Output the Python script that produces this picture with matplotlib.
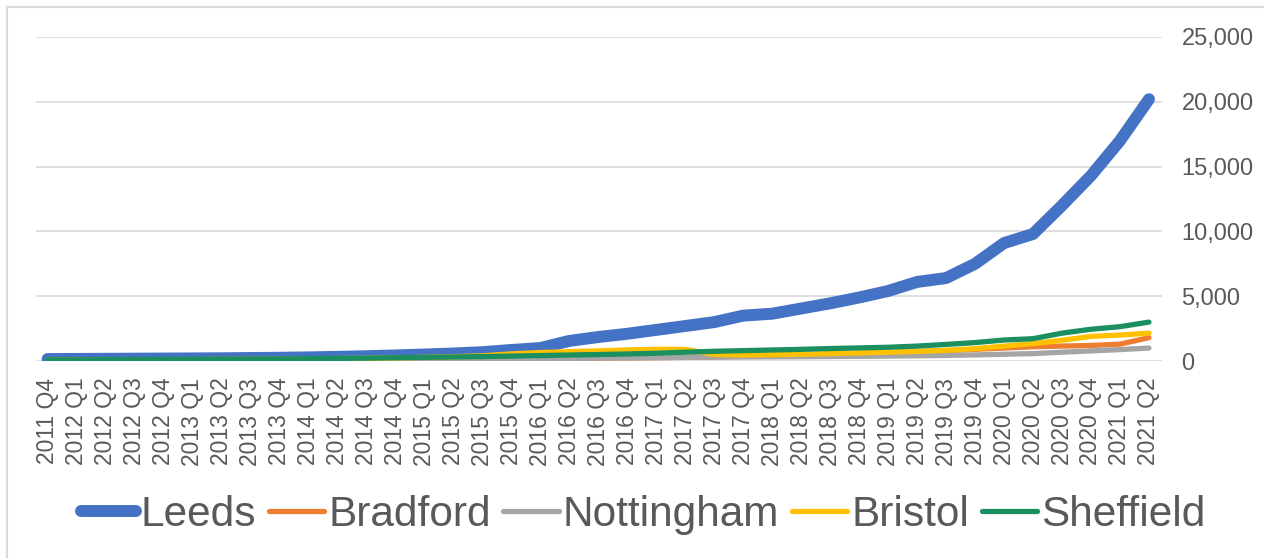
import matplotlib
matplotlib.use("Agg")
import matplotlib.pyplot as plt
from matplotlib.lines import Line2D
from matplotlib.ticker import FuncFormatter

plt.rcParams['font.family'] = ['Liberation Sans', 'DejaVu Sans']

# quarters 2011 Q4 .. 2021 Q2
quarters = ["2011 Q4"]
for yr in range(2012, 2022):
    for q in range(1, 5):
        quarters.append(f"{yr} Q{q}")
quarters = quarters[:39]

leeds = [150, 160, 170, 180, 190, 200, 210, 230, 250, 280, 320, 370, 430, 500,
         580, 680, 850, 1000, 1550, 1850, 2100, 2400, 2700, 3000, 3500, 3650,
         4050, 4450, 4900, 5400, 6100, 6400, 7500, 9100, 9800, 12000, 14300,
         17000, 20200]
bradford = [30, 35, 40, 45, 50, 55, 60, 65, 70, 80, 90, 100, 110, 120, 130,
            140, 160, 180, 200, 220, 240, 260, 280, 300, 360, 400, 460, 520,
            580, 650, 720, 800, 900, 1000, 1100, 1150, 1200, 1300, 1800]
nottingham = [20, 25, 30, 35, 40, 45, 50, 55, 60, 70, 80, 90, 100, 110, 120,
              140, 160, 180, 200, 220, 240, 260, 280, 300, 310, 320, 330, 345,
              360, 380, 400, 430, 470, 520, 570, 680, 780, 880, 1000]
bristol = [60, 70, 80, 90, 100, 110, 120, 130, 150, 170, 190, 210, 240, 280,
           330, 400, 550, 650, 720, 780, 850, 900, 900, 500, 460, 480, 520,
           570, 620, 680, 740, 820, 950, 1150, 1340, 1600, 1900, 2000, 2150]
sheffield = [80, 90, 100, 110, 120, 130, 140, 150, 165, 180, 200, 220, 250,
             280, 310, 340, 380, 420, 460, 500, 540, 600, 680, 750, 800, 850,
             900, 960, 1010, 1060, 1150, 1280, 1420, 1620, 1720, 2150, 2450,
             2650, 3000]

series = [
    ("Leeds", leeds, "#4472C4", 8.6),
    ("Bradford", bradford, "#ED7D31", 3.8),
    ("Nottingham", nottingham, "#A5A5A5", 3.8),
    ("Bristol", bristol, "#FFC000", 3.8),
    ("Sheffield", sheffield, "#1B8F5F", 3.8),
]

text_col = "#595959"
grid_col = "#D9D9D9"

fig = plt.figure(figsize=(12.64, 5.58), dpi=100)
ax = fig.add_axes([36 / 1264, 1 - 361 / 558, (1162 - 36) / 1264, (361 - 37) / 558])

x = list(range(len(quarters)))
for name, vals, col, lw in series:
    ax.plot(x, vals, color=col, lw=lw, label=name,
            solid_capstyle="round", solid_joinstyle="round")

ax.set_xlim(-0.4, 38.45)
ax.set_ylim(0, 25000)
ax.set_yticks(range(0, 25001, 5000))
ax.yaxis.set_major_formatter(FuncFormatter(lambda v, p: f"{int(v):,}"))
ax.yaxis.tick_right()
ax.tick_params(axis="y", length=0, pad=14, labelsize=17, labelcolor=text_col)
ax.set_xticks(x)
ax.set_xticklabels(quarters, rotation=90)
ax.tick_params(axis="x", length=0, pad=12, labelsize=16.5, labelcolor=text_col)

ax.grid(axis="y", color=grid_col, lw=1.2)
ax.set_axisbelow(True)
for s in ax.spines.values():
    s.set_visible(False)

# legend at the bottom, excel style
handles = [Line2D([], [], color=c, lw=lw, solid_capstyle="round") for _, _, c, lw in series]
fig.legend(handles, [s[0] for s in series], loc="center", bbox_to_anchor=(0.509, 1 - 515 / 558),
           ncol=5, frameon=False, fontsize=30.5, labelcolor=text_col,
           handlelength=1.3, handletextpad=0.1, columnspacing=0.3)

# outer chart frame (top and left visible)
fig.add_artist(Line2D([7 / 1264, 1.0], [1 - 7 / 558] * 2, color=grid_col, lw=1.5))
fig.add_artist(Line2D([7 / 1264] * 2, [0.0, 1 - 7 / 558], color=grid_col, lw=1.5))

fig.savefig("out.png", dpi=100)
